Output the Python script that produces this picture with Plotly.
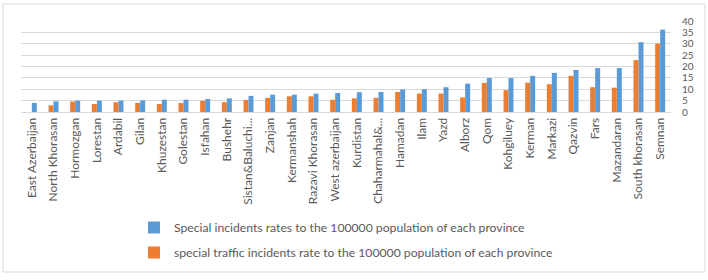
import plotly.graph_objects as go

provinces = ["East Azerbaijan", "North Khorasan", "Hormozgan", "Lorestan", "Ardabil", "Gilan",
             "Khuzestan", "Golestan", "Isfahan", "Bushehr", "Sistan&Baluchi...", "Zanjan",
             "Kermanshah", "Razavi Khorasan", "West azerbaijan", "Kurdistan", "Chaharmahal&...",
             "Hamadan", "Ilam", "Yazd", "Alborz", "Qom", "Kohgiluey", "Kerman", "Markazi",
             "Qazvin", "Fars", "Mazandaran", "South khorasan", "Semnan"]

special_incidents = [4.0, 4.7, 5.0, 5.0, 5.0, 5.1, 5.4, 5.4, 5.7, 6.0, 7.1, 7.6, 7.6, 8.1, 8.4,
                     8.7, 8.8, 9.9, 10.0, 10.9, 12.5, 14.9, 14.9, 15.9, 17.2, 18.5, 19.3, 19.3,
                     30.7, 36.2]

traffic_incidents = [0.0, 2.9, 4.6, 3.5, 4.3, 4.0, 3.5, 4.0, 4.9, 4.3, 5.3, 6.2, 6.9, 6.9, 5.4,
                     6.0, 6.2, 8.8, 8.1, 8.1, 6.4, 12.8, 9.6, 12.9, 12.2, 15.9, 10.9, 10.7,
                     22.8, 30.1]

y_ticks = [0, 5, 10, 15, 20, 25, 30, 35, 40]

BLUE = "#5b9bd5"
ORANGE = "#ed7d31"
GRAY = "#595959"
FONT = "Lato"

fig = go.Figure()
fig.add_trace(go.Bar(
    x=provinces, y=traffic_incidents,
    name="special traffic incidents rate to the 100000 population of each province",
    marker=dict(color=ORANGE, line=dict(width=0)), legendgroup="b", legendrank=2,
))
fig.add_trace(go.Bar(
    x=provinces, y=special_incidents,
    name="Special incidents rates to the 100000 population of each province",
    marker=dict(color=BLUE, line=dict(width=0)), legendgroup="a", legendrank=1,
))

L, R, T, B = 21, 37, 21, 168
W, H = 708, 280
pw, ph = W - L - R, H - T - B

def px_x(px):
    return (px - L) / pw

def px_y(py):
    return (H - B - py) / ph

fig.update_layout(
    width=W, height=H,
    margin=dict(l=L, r=R, t=T, b=B, autoexpand=False),
    paper_bgcolor="white", plot_bgcolor="white",
    barmode="group", bargap=0.54, bargroupgap=0.0,
    font=dict(family=FONT, size=12, color=GRAY),
    showlegend=True,
    legend=dict(
        orientation="v", x=px_x(134), y=px_y(213), xanchor="left", yanchor="top",
        traceorder="grouped", tracegroupgap=6,
        font=dict(family=FONT, size=12.2, color=GRAY),
        itemwidth=30, bgcolor="rgba(0,0,0,0)",
    ),
    xaxis=dict(
        type="category", tickangle=-90, showgrid=False, showline=True,
        linecolor="#d9d9d9", linewidth=1, ticks="", automargin=False,
        tickfont=dict(family=FONT, size=12, color=GRAY),
    ),
    yaxis=dict(
        side="right", range=[0, 40], tickvals=y_ticks, showgrid=True,
        gridcolor="#d9d9d9", gridwidth=1, zeroline=False, showline=False,
        ticks="", ticklabelstandoff=10, automargin=False,
        tickfont=dict(family=FONT, size=10, color=GRAY),
    ),
    shapes=[dict(
        type="rect", xref="paper", yref="paper",
        x0=px_x(3), x1=px_x(705), y0=px_y(272), y1=px_y(4),
        line=dict(color="#d9d9d9", width=1), fillcolor="rgba(0,0,0,0)", layer="below",
    )],
)

fig.write_html(
    "out.html",
    config={"displayModeBar": False},
    post_script="document.body.style.margin='0';document.body.style.overflow='hidden';",
)
